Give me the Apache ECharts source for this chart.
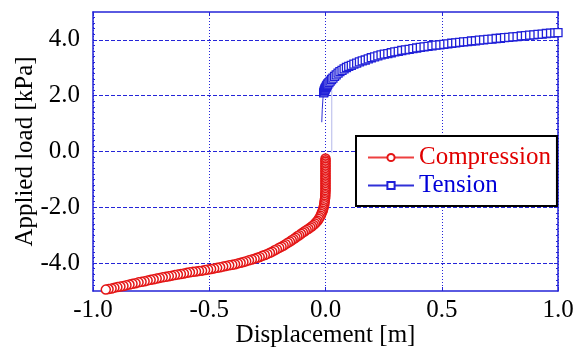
<!DOCTYPE html>
<html>
<head>
<meta charset="UTF-8">
<script src="https://cdn.jsdelivr.net/npm/echarts@6/dist/echarts.min.js"></script>
<title>Applied load vs displacement</title>
<style>
body {
	margin: 0;
	padding: 0;
	background: #FFFFFF;
}

#main {
	width: 584px;
	height: 352px;
}
</style>
</head>
<body>
	<div id="main"></div>
	<script>
		var compression = [
			[0.000, -0.25], [0.000, -0.31], [0.000, -0.37], [0.000, -0.43], [0.000, -0.49],
			[0.000, -0.55], [0.000, -0.61], [0.000, -0.67], [0.000, -0.73], [0.000, -0.79],
			[0.000, -0.85], [0.000, -0.91], [0.000, -0.97], [0.000, -1.03], [0.000, -1.09],
			[0.000, -1.15], [0.000, -1.21], [0.000, -1.27], [0.000, -1.33], [0.000, -1.39],
			[0.000, -1.45], [-0.001, -1.51], [-0.001, -1.57], [-0.001, -1.63], [-0.002, -1.69],
			[-0.003, -1.75], [-0.004, -1.81], [-0.005, -1.87], [-0.006, -1.93], [-0.008, -2.00],
			[-0.010, -2.06], [-0.012, -2.12], [-0.015, -2.18], [-0.018, -2.24], [-0.021, -2.30],
			[-0.025, -2.36], [-0.029, -2.42], [-0.034, -2.48], [-0.039, -2.53], [-0.045, -2.58],
			[-0.051, -2.63], [-0.058, -2.68], [-0.065, -2.72], [-0.073, -2.77], [-0.081, -2.81],
			[-0.089, -2.86], [-0.097, -2.90], [-0.105, -2.95], [-0.113, -3.00], [-0.121, -3.04],
			[-0.129, -3.09], [-0.137, -3.14], [-0.145, -3.18], [-0.153, -3.23], [-0.162, -3.27],
			[-0.171, -3.32], [-0.180, -3.37], [-0.189, -3.41], [-0.199, -3.45], [-0.209, -3.50],
			[-0.219, -3.54], [-0.229, -3.59], [-0.239, -3.63], [-0.250, -3.67], [-0.261, -3.71],
			[-0.272, -3.74], [-0.283, -3.78], [-0.294, -3.81], [-0.305, -3.84], [-0.317, -3.87],
			[-0.329, -3.90], [-0.341, -3.93], [-0.353, -3.96], [-0.365, -3.99], [-0.377, -4.01],
			[-0.389, -4.04], [-0.401, -4.06], [-0.414, -4.08], [-0.427, -4.10], [-0.440, -4.12],
			[-0.453, -4.15], [-0.466, -4.17], [-0.479, -4.19], [-0.492, -4.21], [-0.505, -4.23],
			[-0.518, -4.25], [-0.531, -4.27], [-0.544, -4.28], [-0.557, -4.30], [-0.570, -4.31],
			[-0.583, -4.33], [-0.596, -4.35], [-0.609, -4.37], [-0.622, -4.39], [-0.635, -4.41],
			[-0.648, -4.43], [-0.661, -4.45], [-0.674, -4.47], [-0.687, -4.49], [-0.700, -4.51],
			[-0.713, -4.53], [-0.726, -4.55], [-0.739, -4.58], [-0.752, -4.60], [-0.765, -4.62],
			[-0.778, -4.65], [-0.791, -4.67], [-0.804, -4.69], [-0.817, -4.72], [-0.830, -4.74],
			[-0.843, -4.77], [-0.856, -4.79], [-0.869, -4.82], [-0.882, -4.84], [-0.895, -4.86],
			[-0.908, -4.88], [-0.920, -4.91], [-0.933, -4.93], [-0.945, -4.95]
		];

		// tension branch, the lead points are the bare line before the markers start
		var tensionLead = [
			[-0.016, 1.05], [-0.014, 1.50], [-0.011, 1.90]
		];
		var tension = [
			[-0.008, 2.10], [-0.006, 2.14], [-0.005, 2.18], [-0.003, 2.21], [-0.002, 2.24],
			[0.000, 2.27], [0.002, 2.30], [0.004, 2.33], [0.006, 2.36], [0.008, 2.39],
			[0.010, 2.42], [0.015, 2.47], [0.020, 2.52], [0.026, 2.58], [0.032, 2.63],
			[0.039, 2.69], [0.046, 2.75], [0.054, 2.81], [0.062, 2.86], [0.071, 2.91],
			[0.080, 2.96], [0.090, 3.01], [0.100, 3.05], [0.111, 3.09], [0.122, 3.13],
			[0.134, 3.17], [0.146, 3.21], [0.158, 3.25], [0.171, 3.28], [0.184, 3.32],
			[0.197, 3.36], [0.211, 3.39], [0.225, 3.43], [0.239, 3.46], [0.253, 3.49],
			[0.268, 3.51], [0.283, 3.54], [0.298, 3.57], [0.313, 3.59], [0.328, 3.62],
			[0.344, 3.64], [0.360, 3.66], [0.376, 3.69], [0.392, 3.71], [0.408, 3.73],
			[0.424, 3.75], [0.441, 3.77], [0.458, 3.79], [0.475, 3.81], [0.492, 3.82],
			[0.509, 3.84], [0.526, 3.86], [0.543, 3.88], [0.560, 3.89], [0.577, 3.91],
			[0.594, 3.93], [0.611, 3.94], [0.628, 3.96], [0.645, 3.97], [0.662, 3.99],
			[0.680, 4.00], [0.698, 4.02], [0.716, 4.03], [0.734, 4.05], [0.752, 4.06],
			[0.770, 4.08], [0.788, 4.09], [0.806, 4.11], [0.824, 4.12], [0.842, 4.14],
			[0.860, 4.15], [0.878, 4.17], [0.896, 4.18], [0.914, 4.20], [0.932, 4.21],
			[0.950, 4.23], [0.968, 4.24], [0.986, 4.25], [1.000, 4.26]
		];

		// faint unloading trace near zero
		var faintTrace = [
			[0.027, 2.20], [0.027, -0.05]
		];

		var xTicks = [-1.0, -0.5, 0.0, 0.5, 1.0];
		var yTicks = [-4, -2, 0, 2, 4];

		var FONT = "'Liberation Serif', 'Times New Roman', serif";
		var BLUE = '#2424d8';

		var tensionData = [];
		tensionLead.forEach(function(p) {
			tensionData.push({ value : p, symbol : 'none' });
		});
		tension.forEach(function(p) {
			tensionData.push({ value : p });
		});

		var baseX = {
			type : 'value',
			min : -1,
			max : 1,
			axisLine : { show : true, onZero : false, lineStyle : { color : BLUE, width : 1.5 } },
			axisTick : { show : true, inside : true, length : 4, customValues : xTicks, lineStyle : { color : BLUE } },
			axisLabel : { show : false, customValues : xTicks },
			splitLine : { show : false }
		};
		var baseY = {
			type : 'value',
			min : -5,
			max : 5,
			axisLine : { show : true, onZero : false, lineStyle : { color : BLUE, width : 1.5 } },
			axisTick : { show : true, inside : true, length : 4, customValues : yTicks, lineStyle : { color : BLUE } },
			axisLabel : { show : false, customValues : yTicks },
			splitLine : { show : false }
		};

		var option = {
			animation : false,
			backgroundColor : '#FFFFFF',
			grid : {
				left : 93,
				right : 26,
				top : 12,
				bottom : 61,
				containLabel : false,
				outerBoundsMode : 'none'
			},
			legend : {
				orient : 'vertical',
				left : 356,
				top : 136,
				padding : [ 9, 6, 8, 11 ],
				itemGap : 3,
				itemWidth : 46,
				itemHeight : 9,
				borderColor : '#000000',
				borderWidth : 2,
				borderRadius : 0,
				backgroundColor : '#FFFFFF',
				textStyle : {
					fontFamily : FONT,
					fontSize : 25,
					lineHeight : 25,
					padding : [ 0, 0, 0, 0 ]
				},
				data : [ {
					name : 'Compression',
					textStyle : { color : '#e00000' }
				}, {
					name : 'Tension',
					textStyle : { color : '#0000d8' }
				} ]
			},
			xAxis : [ echarts.util.merge(echarts.util.clone(baseX), {
				position : 'bottom',
				name : 'Displacement [m]',
				nameLocation : 'middle',
				nameGap : 32,
				nameMoveOverlap : false,
				nameTextStyle : { fontFamily : FONT, fontSize : 25, color : '#000000' },
				axisLabel : {
					show : true,
					margin : 7,
					fontFamily : FONT,
					fontSize : 25,
					color : '#000000',
					formatter : function(v) {
						return v.toFixed(1);
					}
				},
				splitLine : {
					show : true,
					lineStyle : { color : BLUE, width : 1, type : [ 1, 2 ] }
				}
			}, true), echarts.util.merge(echarts.util.clone(baseX), {
				position : 'top'
			}, true) ],
			yAxis : [ echarts.util.merge(echarts.util.clone(baseY), {
				position : 'left',
				name : 'Applied load [kPa]',
				nameLocation : 'middle',
				nameGap : 55,
				nameMoveOverlap : false,
				nameTextStyle : { fontFamily : FONT, fontSize : 25, color : '#000000' },
				axisLabel : {
					show : true,
					margin : 13,
					fontFamily : FONT,
					fontSize : 25,
					color : '#000000',
					formatter : function(v) {
						return v.toFixed(1);
					}
				},
				minorTick : {
					show : true,
					splitNumber : 10,
					length : 2,
					lineStyle : { color : BLUE }
				},
				splitLine : {
					show : true,
					lineStyle : { color : BLUE, width : 1, type : [ 4, 2 ] }
				}
			}, true), echarts.util.merge(echarts.util.clone(baseY), {
				position : 'right',
				minorTick : {
					show : true,
					splitNumber : 10,
					length : 2,
					lineStyle : { color : BLUE }
				}
			}, true) ],
			series : [ {
				type : 'line',
				name : 'faint',
				data : faintTrace,
				symbol : 'none',
				silent : true,
				lineStyle : { color : '#b4b8ea', width : 1 },
				z : 1
			}, {
				type : 'line',
				name : 'Compression',
				data : compression,
				symbol : 'circle',
				symbolSize : 9,
				showAllSymbol : true,
				color : '#e81818',
				itemStyle : { color : '#FFFFFF', borderColor : '#e41616', borderWidth : 1.5 },
				lineStyle : { color : '#ee4040', width : 1 },
				z : 3
			}, {
				type : 'line',
				name : 'Tension',
				data : tensionData,
				symbol : 'rect',
				symbolSize : 8,
				showAllSymbol : true,
				color : '#2020d8',
				itemStyle : { color : '#FFFFFF', borderColor : '#2020d8', borderWidth : 1.3 },
				lineStyle : { color : '#3030d8', width : 1 },
				z : 3
			} ]
		};

		var mychart = echarts.init(document.getElementById('main'));
		mychart.setOption(option);
	</script>
</body>
</html>
